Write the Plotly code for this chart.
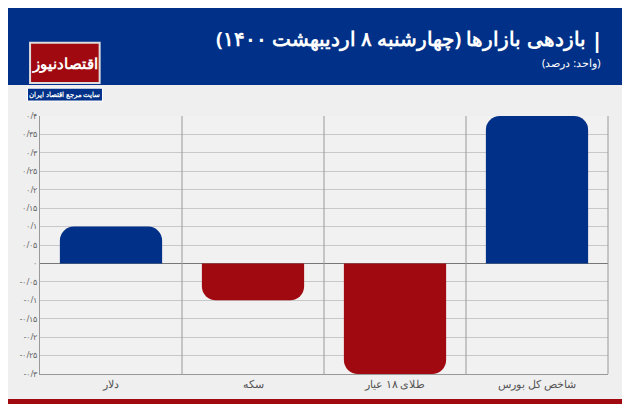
import plotly.graph_objects as go

categories = ["دلار", "سکه", "طلای ۱۸ عیار", "شاخص کل بورس"]
values = [0.1, -0.1, -0.3, 0.4]
tick_vals = [0.4, 0.35, 0.3, 0.25, 0.2, 0.15, 0.1, 0.05, 0, -0.05, -0.1, -0.15, -0.2, -0.25, -0.3]
tick_text = ["۰/۴", "۰/۳۵", "۰/۳", "۰/۲۵", "۰/۲", "۰/۱۵", "۰/۱", "۰/۰۵", "۰",
             "-۰/۰۵", "-۰/۱", "-۰/۱۵", "-۰/۲", "-۰/۲۵", "-۰/۳"]

BLUE = "#003087"
RED = "#a0090f"
colors = [BLUE if v >= 0 else RED for v in values]

fig = go.Figure(go.Bar(
    x=categories, y=values, marker=dict(color=colors, cornerradius=14, line_width=0),
    width=0.72,
))

fig.update_layout(
    width=630, height=404,
    margin=dict(l=30, r=30, t=108, b=38),
    paper_bgcolor="#efefef", plot_bgcolor="#f1f1f1",
    font=dict(family="Noto Sans", color="#444"),
    showlegend=False,
    xaxis=dict(showgrid=False, tickfont=dict(size=11, color="#555"), ticks="",
               showline=True, linecolor="#999"),
    yaxis=dict(range=[-0.3, 0.4], tickvals=tick_vals, ticktext=tick_text,
               tickfont=dict(size=8, color="#666"), gridcolor="#c8c8c8",
               zeroline=True, zerolinecolor="#777", zerolinewidth=1,
               showline=True, linecolor="#999"),
)

s = []
# category separators
for i in range(1, len(categories)):
    s.append(dict(type="line", xref="x", yref="paper", x0=i - 0.5, x1=i - 0.5, y0=0, y1=1,
                  line=dict(color="#999", width=1)))
s.append(dict(type="line", xref="paper", yref="paper", x0=1, x1=1, y0=0, y1=1,
              line=dict(color="#999", width=1)))
# header band, top and bottom strips
s.append(dict(type="rect", xref="paper", yref="paper", x0=-0.1, x1=1.1, y0=1.12, y1=1.6,
              fillcolor=BLUE, line_width=0))
s.append(dict(type="rect", xref="paper", yref="paper", x0=-0.1, x1=1.1, y0=1.424, y1=1.6,
              fillcolor=RED, line_width=0))
s.append(dict(type="rect", xref="paper", yref="paper", x0=-0.1, x1=1.1, y0=-0.5, y1=-0.097,
              fillcolor=RED, line_width=0))
# logo
s.append(dict(type="rect", xref="paper", yref="paper", x0=-0.0175, x1=0.105, y0=1.128, y1=1.284,
              fillcolor=RED, line=dict(color="#dddddd", width=2)))
s.append(dict(type="rect", xref="paper", yref="paper", x0=-0.022, x1=0.11, y0=1.058, y1=1.108,
              fillcolor=BLUE, line=dict(color="white", width=1)))
fig.update_layout(shapes=s)

fig.add_annotation(text="<b>بازدهی بازارها (چهارشنبه ۸ اردیبهشت ۱۴۰۰)</b>", xref="paper", yref="paper",
                   x=0.965, y=1.30, xanchor="right", yanchor="middle", showarrow=False,
                   font=dict(size=20, color="white", family="Noto Sans"))
fig.add_annotation(text="<b>|</b>", xref="paper", yref="paper",
                   x=0.995, y=1.30, xanchor="right", yanchor="middle", showarrow=False,
                   font=dict(size=22, color="white", family="Noto Sans"))
fig.add_annotation(text="(واحد: درصد)", xref="paper", yref="paper",
                   x=0.99, y=1.206, xanchor="right", yanchor="middle", showarrow=False,
                   font=dict(size=11, color="white", family="Noto Sans"))
fig.add_annotation(text="<b>اقتصادنیوز</b>", xref="paper", yref="paper",
                   x=0.044, y=1.206, xanchor="center", yanchor="middle", showarrow=False,
                   font=dict(size=15, color="white", family="Noto Sans"))
fig.add_annotation(text="<b>سایت مرجع اقتصاد ایران</b>", xref="paper", yref="paper",
                   x=0.044, y=1.083, xanchor="center", yanchor="middle", showarrow=False,
                   font=dict(size=7, color="white", family="Noto Sans"))

fig.write_html("out.html")
